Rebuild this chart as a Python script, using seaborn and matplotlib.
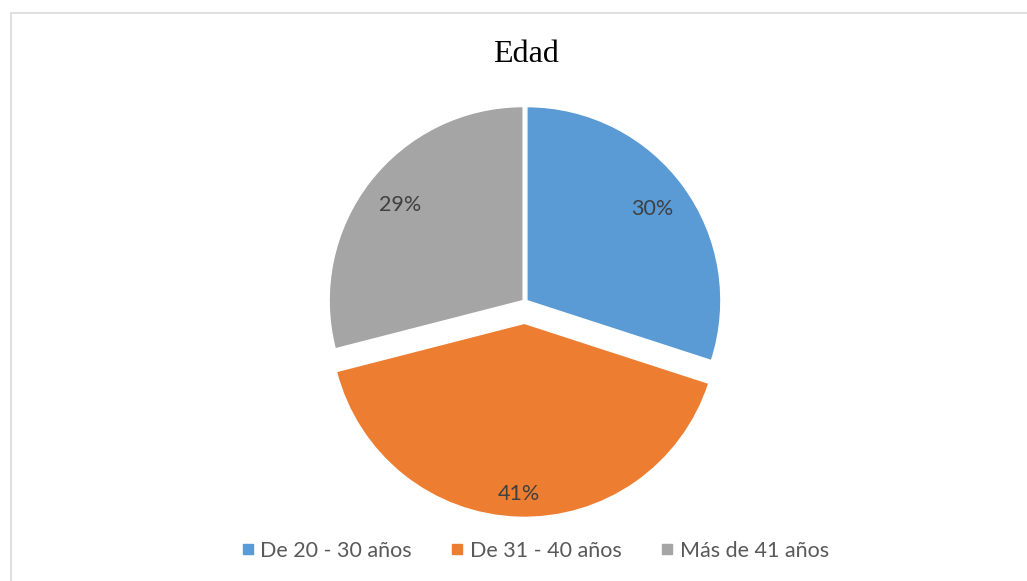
import numpy as np
import pandas as pd
import matplotlib.pyplot as plt
import seaborn as sns
from matplotlib.patches import Rectangle
from matplotlib.lines import Line2D

categorias = ["De 20 - 30 años", "De 31 - 40 años", "Más de 41 años"]
porcentajes = [30, 41, 29]
colores = ["#5b9bd5", "#ed7d31", "#a5a5a5"]
separacion = [0.012, 0.11, 0.012]

sns.set_theme(style="white")
plt.rcParams['font.family'] = ['Lato', 'DejaVu Sans']

fig = plt.figure(figsize=(10.27, 5.81), dpi=100)
ax = fig.add_axes([0.2845, 0.0795, 0.4534, 0.8014])

data = pd.DataFrame({"edad": categorias, "pct": porcentajes})
wedges, texts, autotexts = ax.pie(data["pct"], colors=colores, startangle=90, counterclock=False,
                                  explode=separacion, autopct="%1.0f%%", pctdistance=0.8,
                                  textprops={"fontsize": 15.5, "color": "#404040"})
# la etiqueta naranja va algo mas abajo
x, y = autotexts[1].get_position()
autotexts[1].set_position((x * 1.09, y * 1.09))
ax.set_xlim(-1.2, 1.2)
ax.set_ylim(-1.2, 1.2)
ax.set_aspect("equal")
ax.axis("off")

fig.text(526 / 1027, 1 - 55 / 581, "Edad", ha="center", va="center", fontsize=23,
         family=["Liberation Serif", "DejaVu Serif"], color="black")

handles = [Line2D([], [], marker="s", linestyle="", markersize=7, color=c) for c in colores]
fig.legend(handles, categorias, loc="center", bbox_to_anchor=(533 / 1027, 1 - 551 / 581),
           ncol=3, frameon=False, fontsize=15.5, labelcolor="#595959", handletextpad=0.1,
           columnspacing=1.6, handlelength=1.0)

fig.patches.append(Rectangle((11 / 1027, -0.1), 1.2, 1 - 13 / 581 + 0.1, transform=fig.transFigure,
                             fill=False, edgecolor="#d9d9d9", linewidth=1.2))

fig.savefig("out.png", dpi=100)
